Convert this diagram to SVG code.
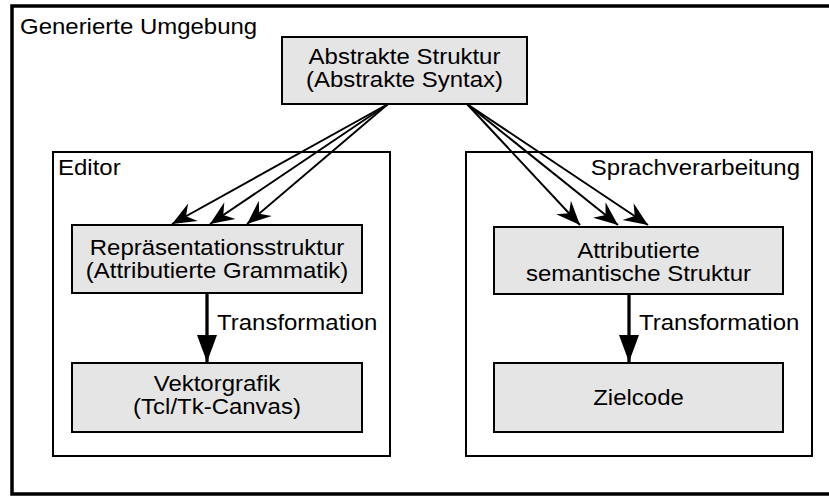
<svg xmlns="http://www.w3.org/2000/svg" width="829" height="496" viewBox="0 0 829 496">
  <defs>
    <style>
      .frame { fill: none; stroke: #000; stroke-width: 2; }
      .outer { fill: none; stroke: #000; stroke-width: 3.5; }
      .box { fill: #e5e5e5; stroke: #000; stroke-width: 2; }
      .txt { font-family: "Liberation Sans", Arial, sans-serif; font-size: 22px; fill: #000; }
      .mid { text-anchor: middle; }
      .fan { stroke: #000; stroke-width: 2; fill: none; marker-end: url(#barb); }
      .down { stroke: #000; stroke-width: 3.3; fill: none; marker-end: url(#tri); }
    </style>
    <marker id="barb" markerUnits="userSpaceOnUse" markerWidth="28" markerHeight="24" viewBox="-26 -12 28 24" refX="0" refY="0" orient="auto">
      <path d="M0,0 L-24,-10 L-16,0 L-24,10 Z" fill="#000"/>
    </marker>
    <marker id="tri" markerUnits="userSpaceOnUse" markerWidth="30" markerHeight="24" viewBox="-28 -12 30 24" refX="0" refY="0" orient="auto">
      <path d="M0,0 L-27,-10 L-27,10 Z" fill="#000"/>
    </marker>
  </defs>

  <!-- outer environment frame -->
  <g id="umgebung">
    <rect class="outer" x="12" y="6" width="840" height="488"/>
    <text class="txt" transform="translate(20,34) scale(1.09,1)">Generierte Umgebung</text>
  </g>

  <!-- editor subsystem -->
  <g id="editor">
    <rect class="frame" x="53" y="152" width="337" height="304"/>
    <text class="txt" transform="translate(58,175) scale(1.09,1)">Editor</text>
  </g>

  <!-- language processing subsystem -->
  <g id="sprachverarbeitung">
    <rect class="frame" x="466" y="152" width="346" height="304"/>
    <text class="txt" transform="translate(800,175) scale(1.09,1)" text-anchor="end">Sprachverarbeitung</text>
  </g>

  <g id="abstrakte-struktur">
    <rect class="box" x="282" y="37" width="245" height="67"/>
    <text class="txt mid" transform="translate(404.5,64) scale(1.09,1)">Abstrakte Struktur</text>
    <text class="txt mid" transform="translate(404.5,87) scale(1.09,1)">(Abstrakte Syntax)</text>
  </g>

  <g id="repraesentation">
    <rect class="box" x="72" y="225" width="290" height="68"/>
    <text class="txt mid" transform="translate(217,255) scale(1.09,1)">Repräsentationsstruktur</text>
    <text class="txt mid" transform="translate(217,278) scale(1.09,1)">(Attributierte Grammatik)</text>
  </g>

  <g id="vektorgrafik">
    <rect class="box" x="72" y="363" width="290" height="69"/>
    <text class="txt mid" transform="translate(217,391) scale(1.09,1)">Vektorgrafik</text>
    <text class="txt mid" transform="translate(217,414) scale(1.09,1)">(Tcl/Tk-Canvas)</text>
  </g>

  <g id="semantik">
    <rect class="box" x="494" y="227" width="289" height="67"/>
    <text class="txt mid" transform="translate(638.5,258) scale(1.09,1)">Attributierte</text>
    <text class="txt mid" transform="translate(638.5,281) scale(1.09,1)">semantische Struktur</text>
  </g>

  <g id="zielcode">
    <rect class="box" x="494" y="363" width="289" height="69"/>
    <text class="txt mid" transform="translate(638.5,405) scale(1.09,1)">Zielcode</text>
  </g>

  <!-- connectors -->
  <g id="connectors">
    <line class="fan" x1="388" y1="104" x2="172" y2="224"/>
    <line class="fan" x1="388" y1="104" x2="210" y2="224"/>
    <line class="fan" x1="388" y1="104" x2="247" y2="224"/>
    <line class="fan" x1="467" y1="104" x2="580" y2="225"/>
    <line class="fan" x1="467" y1="104" x2="618" y2="225"/>
    <line class="fan" x1="467" y1="104" x2="648" y2="225"/>
    <line class="down" x1="207" y1="294" x2="207" y2="362"/>
    <line class="down" x1="629" y1="295" x2="629" y2="362"/>
    <text class="txt" transform="translate(217,330) scale(1.09,1)">Transformation</text>
    <text class="txt" transform="translate(639,330) scale(1.09,1)">Transformation</text>
  </g>
</svg>
